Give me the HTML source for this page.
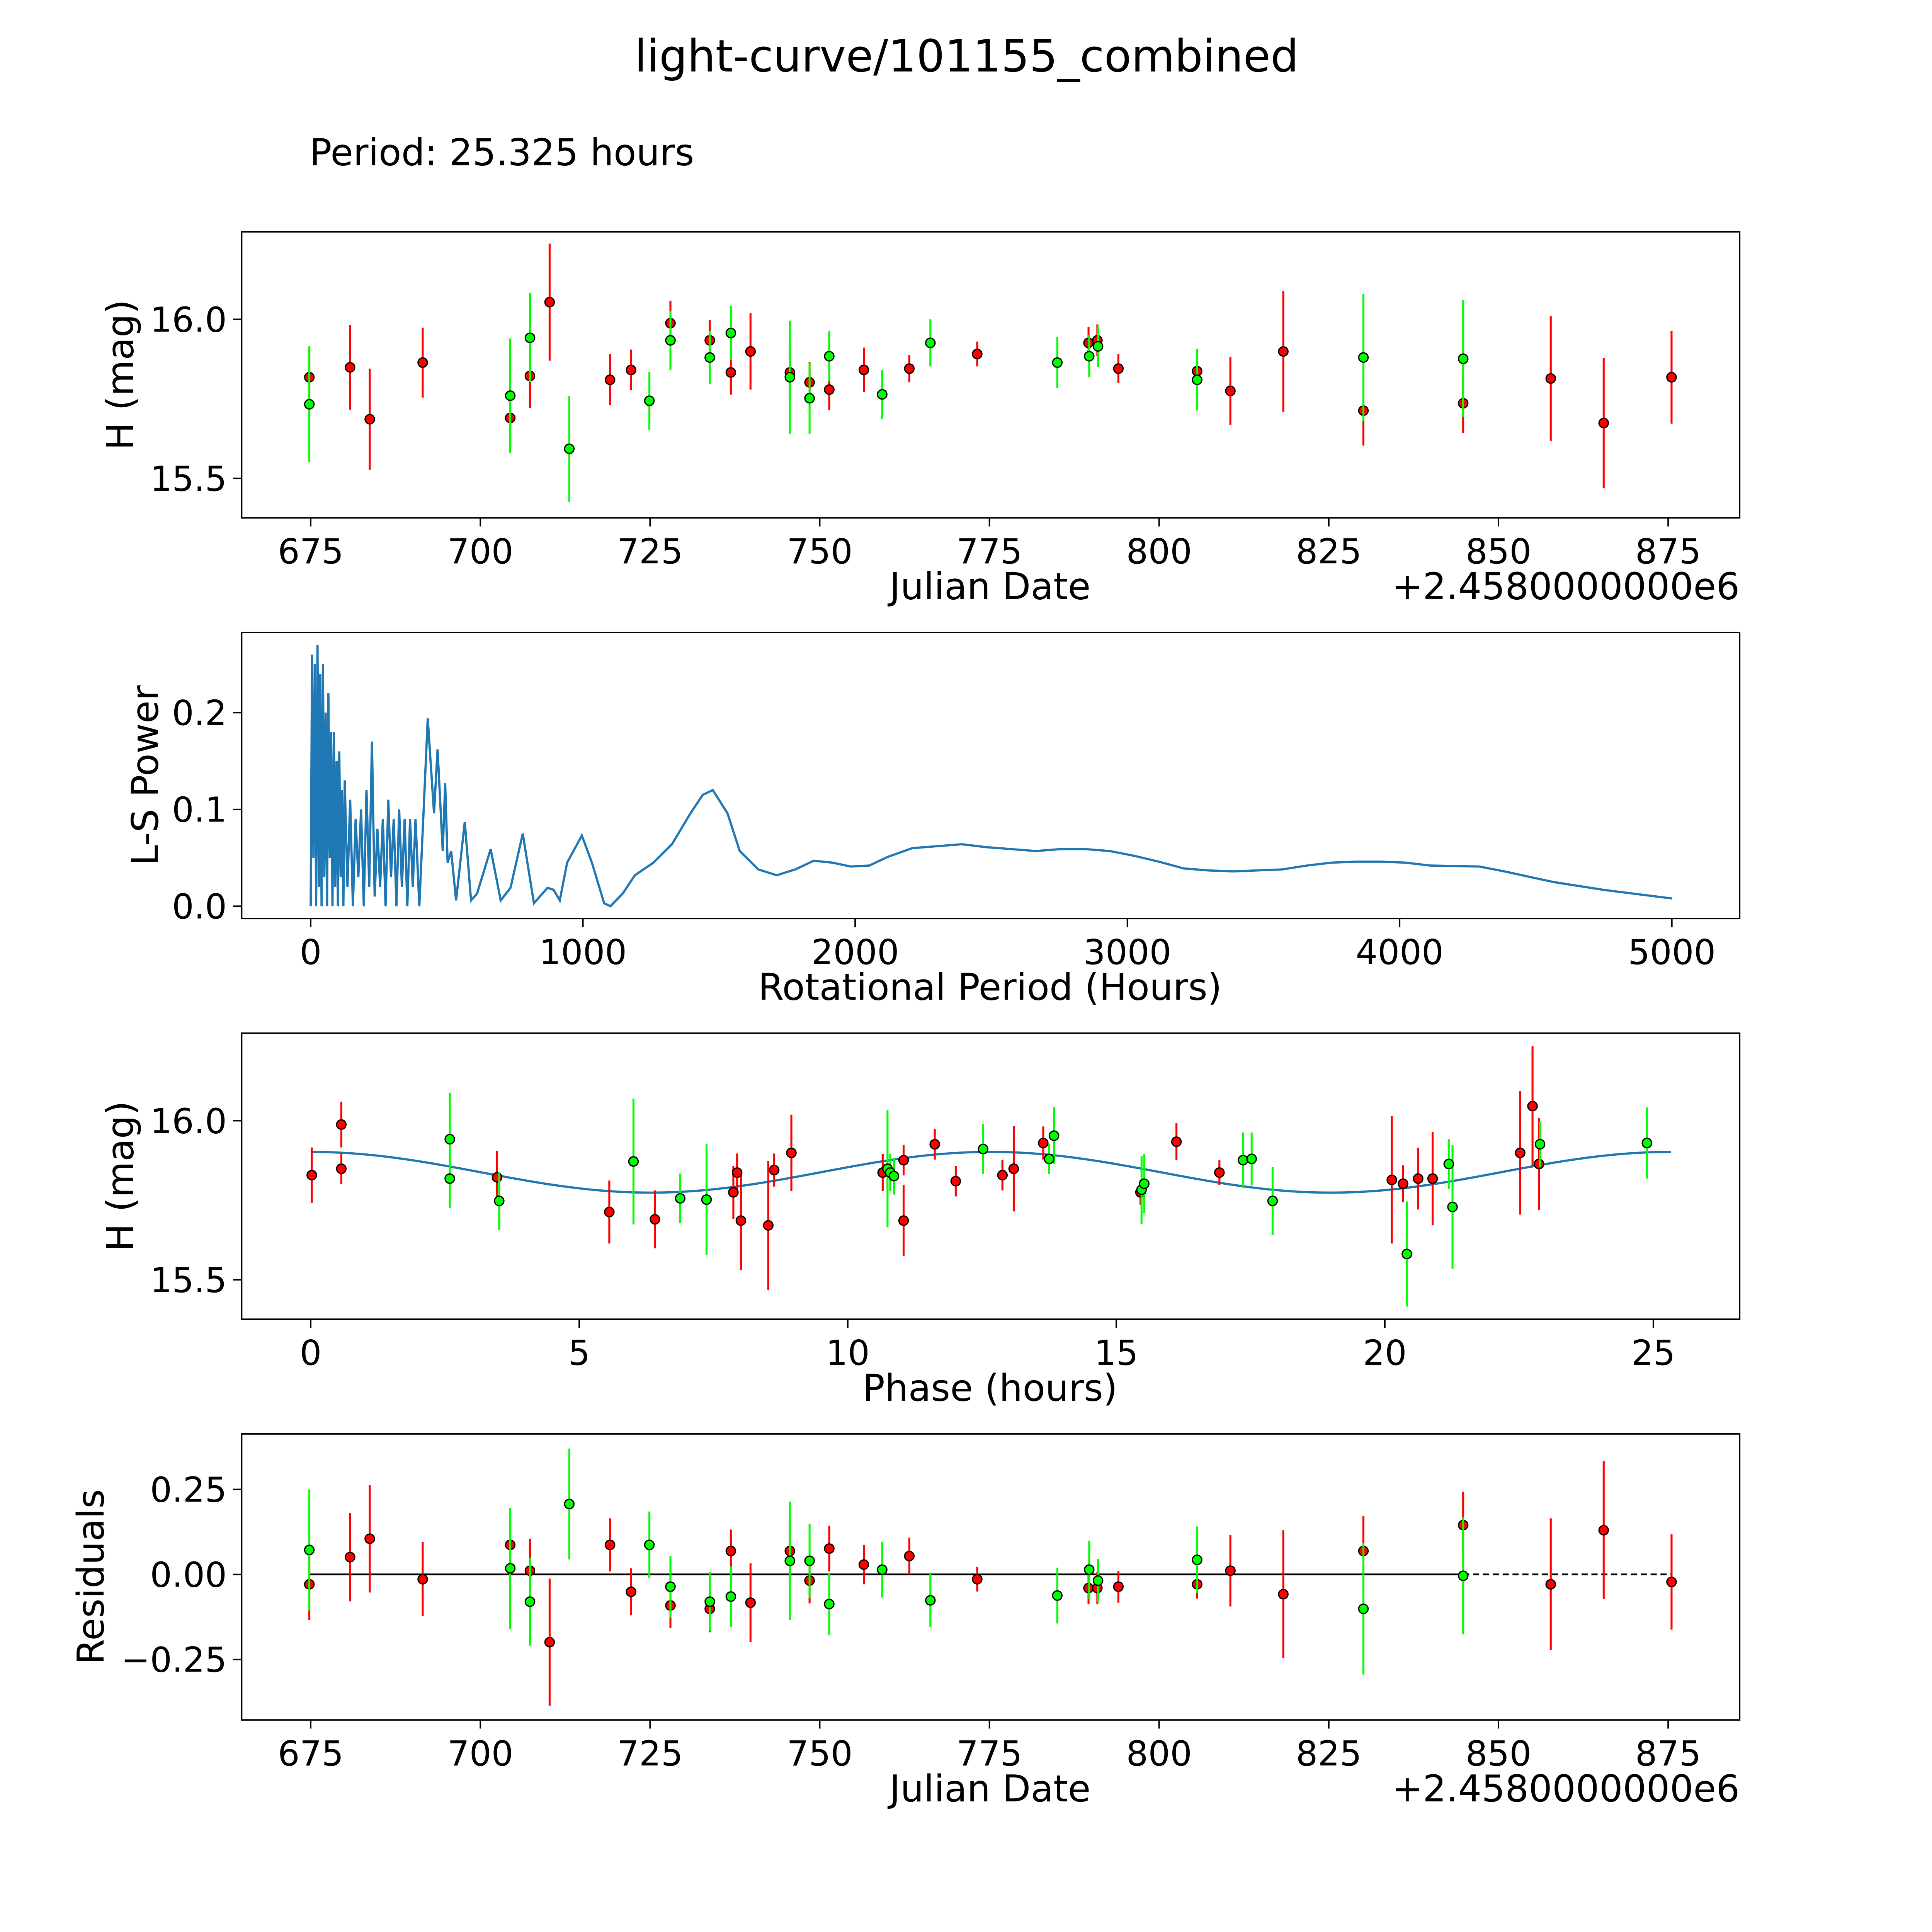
<!DOCTYPE html>
<html><head><meta charset="utf-8"><style>
html,body{margin:0;padding:0;background:#fff;overflow:hidden;width:100vw;height:100vh;}
svg{display:block;width:100vw;height:100vh;font-family:"DejaVu Sans","Liberation Sans",sans-serif;}
</style></head><body>
<svg id="fig" viewBox="0 0 1567 1567" preserveAspectRatio="none" xmlns="http://www.w3.org/2000/svg">
<rect width="1567" height="1567" fill="#fff"/>
<text x="784" y="58" font-size="36" text-anchor="middle">light-curve/101155_combined</text>
<text x="251" y="134" font-size="30">Period: 25.325 hours</text>
<g id="plots"></g>
</svg>
<script>
// ---------- data ----------
const lcRedDate=[674.8,680.8,683.7,691.5,704.4,707.3,710.2,719.1,722.2,728.0,733.8,736.9,739.8,745.6,748.5,751.4,756.5,763.2,773.2,789.6,790.9,794.0,805.6,810.5,818.3,830.1,844.8,857.7,865.5,875.5];
const lcRedMag=[15.818,15.849,15.686,15.864,15.690,15.822,16.054,15.810,15.841,15.988,15.934,15.833,15.899,15.833,15.802,15.779,15.841,15.845,15.891,15.926,15.934,15.845,15.837,15.775,15.899,15.713,15.736,15.814,15.674,15.818];
const lcRedErr=[0.097,0.133,0.159,0.110,0.097,0.101,0.184,0.080,0.064,0.070,0.064,0.070,0.120,0.087,0.064,0.064,0.070,0.043,0.039,0.050,0.050,0.045,0.045,0.107,0.190,0.110,0.093,0.196,0.205,0.146];
const lcGrnDate=[674.8,704.4,707.3,713.1,724.9,728.0,733.8,736.9,745.6,748.5,751.4,759.2,766.3,785.0,789.7,791.0,805.6,830.1,844.8];
const lcGrnMag=[15.733,15.760,15.942,15.593,15.744,15.934,15.880,15.957,15.818,15.752,15.884,15.764,15.926,15.864,15.884,15.915,15.810,15.880,15.876];
const lcGrnErr=[0.182,0.180,0.140,0.167,0.091,0.093,0.083,0.085,0.178,0.112,0.079,0.077,0.074,0.081,0.066,0.064,0.097,0.200,0.184];

const lsPeriod=[0,5,10,15,20,25,30,35,40,45,50,55,60,65,70,75,80,85,90,95,100,105,110,115,120,125,135,145,155,165,175,185,195,205,215,225,235,245,255,265,275,285,295,305,315,325,335,345,355,365,375,385,399,430,453,466,485,494,503,516,534,566,589,611,661,698,734,779,820,851,870,892,915,942,996,1033,1078,1101,1146,1191,1259,1327,1395,1440,1477,1531,1576,1644,1712,1780,1848,1916,1984,2052,2120,2210,2301,2392,2482,2573,2664,2754,2845,2935,3026,3116,3207,3297,3388,3478,3569,3659,3750,3841,3931,4022,4112,4293,4384,4565,4746,5000];
const lsPower=[0,0.26,0.05,0.25,0,0.27,0.02,0.24,0,0.25,0.03,0.2,0,0.22,0.05,0.18,0,0.18,0.02,0.15,0,0.16,0.03,0.12,0,0.13,0.02,0.11,0,0.09,0.03,0.1,0,0.12,0.02,0.17,0.01,0.08,0.02,0.09,0,0.11,0.03,0.09,0,0.1,0.02,0.09,0,0.09,0.02,0.09,0,0.194,0.096,0.162,0.057,0.127,0.045,0.057,0.006,0.087,0.006,0.013,0.059,0.006,0.019,0.075,0.003,0.013,0.019,0.017,0.006,0.045,0.073,0.045,0.003,0,0.013,0.032,0.045,0.064,0.096,0.115,0.120,0.096,0.057,0.038,0.032,0.038,0.047,0.045,0.041,0.042,0.051,0.060,0.062,0.064,0.061,0.059,0.057,0.059,0.059,0.057,0.052,0.046,0.039,0.037,0.036,0.037,0.038,0.042,0.045,0.046,0.046,0.045,0.042,0.041,0.036,0.025,0.017,0.008];

const phRedPhase=[0.02,0.57,0.57,3.47,5.56,6.41,7.87,7.94,8.01,8.52,8.63,8.95,10.65,11.04,11.04,11.62,12.01,12.88,13.09,13.64,15.45,16.12,16.92,20.13,20.34,20.62,20.89,22.52,22.75,22.87];
const phRedMag=[15.829,15.988,15.849,15.822,15.713,15.690,15.775,15.837,15.686,15.671,15.845,15.899,15.837,15.686,15.876,15.926,15.810,15.829,15.849,15.930,15.775,15.934,15.837,15.814,15.802,15.818,15.818,15.899,16.046,15.864];
const phRedErr=[0.087,0.072,0.048,0.083,0.099,0.091,0.083,0.060,0.155,0.203,0.052,0.120,0.058,0.112,0.048,0.048,0.048,0.048,0.134,0.052,0.039,0.058,0.039,0.200,0.058,0.097,0.147,0.194,0.188,0.145];
const phGrnPhase=[2.59,2.59,3.51,6.01,6.88,7.37,10.74,10.79,10.86,12.52,13.75,13.84,15.47,15.52,17.36,17.52,17.91,20.41,21.19,21.26,22.89,24.88];
const phGrnMag=[15.942,15.818,15.748,15.872,15.756,15.752,15.849,15.837,15.826,15.911,15.880,15.953,15.783,15.802,15.876,15.880,15.748,15.581,15.864,15.729,15.926,15.930];
const phGrnErr=[0.145,0.093,0.091,0.198,0.078,0.174,0.184,0.058,0.058,0.078,0.048,0.089,0.107,0.093,0.087,0.083,0.107,0.165,0.078,0.194,0.072,0.112];
const fitMean=15.838, fitAmp=0.064, fitPeriod=25.325;

const resRedDate=[674.8,680.8,683.7,691.5,704.4,707.3,710.2,719.1,722.2,728.0,733.8,736.9,739.8,745.6,748.5,751.4,756.5,763.2,773.2,789.6,790.9,794.0,805.6,810.5,818.3,830.1,844.8,857.7,865.5,875.5];
const resRedVal=[-0.029,0.051,0.105,-0.014,0.087,0.011,-0.199,0.087,-0.051,-0.091,-0.101,0.069,-0.083,0.069,-0.018,0.076,0.029,0.054,-0.014,-0.040,-0.040,-0.036,-0.029,0.011,-0.058,0.069,0.145,-0.029,0.130,-0.022];
const resRedErr=[0.105,0.130,0.158,0.109,0.089,0.094,0.187,0.078,0.069,0.067,0.069,0.063,0.116,0.096,0.067,0.067,0.058,0.054,0.036,0.047,0.047,0.047,0.042,0.105,0.188,0.103,0.098,0.194,0.203,0.140];
const resGrnDate=[674.8,704.4,707.3,713.1,724.9,728.0,733.8,736.9,745.6,748.5,751.4,759.2,766.3,785.0,789.7,791.0,805.6,830.1,844.8];
const resGrnVal=[0.072,0.018,-0.080,0.207,0.087,-0.036,-0.080,-0.065,0.040,0.040,-0.087,0.014,-0.076,-0.062,0.014,-0.018,0.043,-0.101,-0.004];
const resGrnErr=[0.178,0.178,0.129,0.163,0.098,0.091,0.087,0.089,0.174,0.109,0.091,0.082,0.078,0.082,0.085,0.063,0.098,0.193,0.172];

// ---------- helpers ----------
const NS="http://www.w3.org/2000/svg";
const root=document.getElementById('plots');
function mk(tag,attrs,parent){const e=document.createElementNS(NS,tag);for(const k in attrs)e.setAttribute(k,attrs[k]);(parent||root).appendChild(e);return e;}
function lin(d0,d1,p0,p1){return v=>p0+(v-d0)*(p1-p0)/(d1-d0);}
const L=196,R=1411;

function axesBox(top,bot,name){
  const r=mk('rect',{x:L,y:top,width:R-L,height:bot-top,fill:'none',stroke:'#000','stroke-width':1.2});
  
  
}
function xTicks(vals,labels,sx,bot,name){
  vals.forEach((v,i)=>{
    const l=mk('line',{x1:sx(v),x2:sx(v),y1:bot,y2:bot+7,stroke:'#000','stroke-width':1.2});
    
    
    const t=mk('text',{x:sx(v),y:bot+37,'font-size':28,'text-anchor':'middle'});
    
    
    t.textContent=labels[i];
  });
}
function yTicks(vals,labels,sy,name){
  vals.forEach((v,i)=>{
    const l=mk('line',{x1:L-7,x2:L,y1:sy(v),y2:sy(v),stroke:'#000','stroke-width':1.2});
    
    
    const t=mk('text',{x:L-12,y:sy(v)+10,'font-size':28,'text-anchor':'end'});
    
    
    t.textContent=labels[i];
  });
}
function label(txt,x,y,rot,name){
  const t=mk('text',{x:x,y:y,'font-size':30,'text-anchor':'middle'});
  if(rot)t.setAttribute('transform','rotate(-90 '+x+' '+y+')');
  
  
  t.textContent=txt;
}
function errPoints(xs,ys,es,sx,sy,color,name){
  xs.forEach((xv,i)=>{
    const l=mk('line',{x1:sx(xv),x2:sx(xv),y1:sy(ys[i]-es[i]),y2:sy(ys[i]+es[i]),stroke:color,'stroke-width':1.6});
    
    
  });
  xs.forEach((xv,i)=>{
    const c=mk('circle',{cx:sx(xv),cy:sy(ys[i]),r:3.8,fill:color,stroke:'#000','stroke-width':1});
    
    
  });
}
const RED='#ff0000',GRN='#00ff00';
const jdT=[675,700,725,750,775,800,825,850,875];
const jdL=['675','700','725','750','775','800','825','850','875'];

// ---------- panel 1 ----------
{const sx=lin(675,875,252,1353), sy=lin(16,15.5,259,388);
 axesBox(188,420,'lightcurve');
 errPoints(lcRedDate,lcRedMag,lcRedErr,sx,sy,RED,'lightcurve-red');
 errPoints(lcGrnDate,lcGrnMag,lcGrnErr,sx,sy,GRN,'lightcurve-green');
 xTicks(jdT,jdL,sx,420,'lightcurve');
 yTicks([15.5,16.0],['15.5','16.0'],sy,'lightcurve');
 label('Julian Date',803,486,false,'lightcurve-x-title');
 const o=mk('text',{x:1411,y:486,'font-size':30,'text-anchor':'end'});
 
 
 o.textContent='+2.4580000000e6';
 label('H (mag)',108,304,true,'lightcurve-y-title');
}
// ---------- panel 2 ----------
{const sx=lin(0,5000,252,1356), sy=lin(0,0.2,735,578);
 axesBox(513,745,'periodogram');
 const d=lsPeriod.map((p,i)=>(i?'L':'M')+sx(p).toFixed(2)+' '+sy(lsPower[i]).toFixed(2)).join(' ');
 const pl=mk('path',{d:d,fill:'none',stroke:'#1f77b4','stroke-width':1.8});
 
 
 xTicks([0,1000,2000,3000,4000,5000],['0','1000','2000','3000','4000','5000'],sx,745,'periodogram');
 yTicks([0,0.1,0.2],['0.0','0.1','0.2'],sy,'periodogram');
 label('Rotational Period (Hours)',803,811,false,'periodogram-x-title');
 label('L-S Power',128,629,true,'periodogram-y-title');
}
// ---------- panel 3 ----------
{const sx=lin(0,25,252,1341), sy=lin(16,15.5,909,1038);
 axesBox(838,1070,'phase');
 let d='';
 for(let i=0;i<=200;i++){const p=fitPeriod*i/200;const m=fitMean+fitAmp*Math.cos(4*Math.PI*p/fitPeriod);d+=(i?'L':'M')+sx(p).toFixed(2)+' '+sy(m).toFixed(2)+' ';}
 const pl=mk('path',{d:d,fill:'none',stroke:'#1f77b4','stroke-width':1.8});
 
 
 errPoints(phRedPhase,phRedMag,phRedErr,sx,sy,RED,'phase-red');
 errPoints(phGrnPhase,phGrnMag,phGrnErr,sx,sy,GRN,'phase-green');
 xTicks([0,5,10,15,20,25],['0','5','10','15','20','25'],sx,1070,'phase');
 yTicks([15.5,16.0],['15.5','16.0'],sy,'phase');
 label('Phase (hours)',803,1136,false,'phase-x-title');
 label('H (mag)',108,954,true,'phase-y-title');
}
// ---------- panel 4 ----------
{const sx=lin(675,875,252,1353), sy=lin(0,0.25,1277,1208);
 axesBox(1163,1395,'residuals');
 const z1=mk('line',{x1:sx(674.8),x2:sx(844.8),y1:sy(0),y2:sy(0),stroke:'#000','stroke-width':1.5});
 
 
 const z2=mk('line',{x1:sx(844.8),x2:sx(875.5),y1:sy(0),y2:sy(0),stroke:'#000','stroke-width':1.5,'stroke-dasharray':'5,3'});
 
 
 errPoints(resRedDate,resRedVal,resRedErr,sx,sy,RED,'residual-red');
 errPoints(resGrnDate,resGrnVal,resGrnErr,sx,sy,GRN,'residual-green');
 xTicks(jdT,jdL,sx,1395,'residuals');
 yTicks([-0.25,0,0.25],['\u22120.25','0.00','0.25'],sy,'residuals');
 label('Julian Date',803,1461,false,'residuals-x-title');
 const o=mk('text',{x:1411,y:1461,'font-size':30,'text-anchor':'end'});
 
 
 o.textContent='+2.4580000000e6';
 label('Residuals',84,1279,true,'residuals-y-title');
}
</script>
</body></html>
